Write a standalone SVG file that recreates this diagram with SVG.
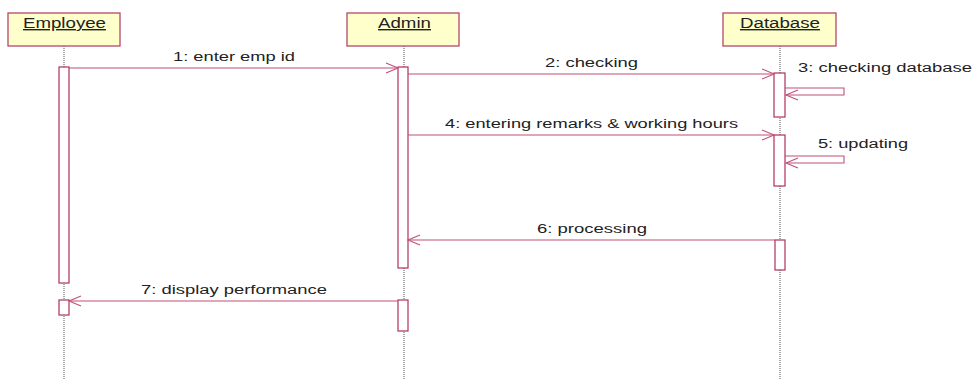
<svg xmlns="http://www.w3.org/2000/svg" width="980" height="380" viewBox="0 0 980 380">
<style>
.box{fill:#ffffcc;stroke:#b4476e;stroke-width:1.3}
.life{stroke:#555;stroke-width:1;stroke-dasharray:1 1}
.act{fill:#fff;stroke:#b0305e;stroke-width:1.2}
.msg{fill:none;stroke:#c0507a;stroke-width:1.1}
.head{fill:none;stroke:#c0507a;stroke-width:1.1}
.name{font-family:"Liberation Sans",Arial,sans-serif;font-size:14px;fill:#222;text-decoration:underline}
.lbl{font-family:"Liberation Sans",Arial,sans-serif;font-size:12px;fill:#222}
</style>
<rect width="980" height="380" fill="#fff"/>
<g id="employee">
<line class="life" x1="64" y1="46" x2="64" y2="380"/>
<rect class="box" x="8" y="13" width="112" height="33"/>
<text class="name" x="23" y="28" textLength="83" lengthAdjust="spacingAndGlyphs">Employee</text>
<rect class="act" x="59" y="67" width="10" height="216"/>
<rect class="act" x="59" y="300" width="10" height="15"/>
</g>
<g id="admin">
<line class="life" x1="404" y1="46" x2="404" y2="380"/>
<rect class="box" x="347" y="13" width="112" height="33"/>
<text class="name" x="378" y="28" textLength="53" lengthAdjust="spacingAndGlyphs">Admin</text>
<rect class="act" x="398" y="67" width="10" height="201"/>
<rect class="act" x="398" y="300" width="10" height="31"/>
</g>
<g id="database">
<line class="life" x1="780" y1="46" x2="780" y2="380"/>
<rect class="box" x="723" y="13" width="113" height="33"/>
<text class="name" x="740" y="28" textLength="80" lengthAdjust="spacingAndGlyphs">Database</text>
<rect class="act" x="774" y="73" width="11" height="44"/>
<rect class="act" x="774" y="135" width="11" height="51"/>
<rect class="act" x="775" y="240" width="10" height="30"/>
</g>
<g id="connectors">
<line class="msg" x1="69" y1="68" x2="398" y2="68"/>
<polyline class="head" points="386,63 398,68 386,73"/>
<text class="lbl" x="173" y="61" textLength="122" lengthAdjust="spacingAndGlyphs">1: enter emp id</text>

<line class="msg" x1="408" y1="74" x2="774" y2="74"/>
<polyline class="head" points="762,69 774,74 762,79"/>
<text class="lbl" x="545" y="67" textLength="93" lengthAdjust="spacingAndGlyphs">2: checking</text>

<polyline class="msg" points="785,88 844,88 844,95 786,95"/>
<polyline class="head" points="798,90 786,95 798,100"/>
<text class="lbl" x="798" y="72" textLength="174" lengthAdjust="spacingAndGlyphs">3: checking database</text>

<line class="msg" x1="408" y1="135" x2="774" y2="135"/>
<polyline class="head" points="762,130 774,135 762,140"/>
<text class="lbl" x="445" y="128" textLength="293" lengthAdjust="spacingAndGlyphs">4: entering remarks &amp; working hours</text>

<polyline class="msg" points="785,156 844,156 844,163 786,163"/>
<polyline class="head" points="798,158 786,163 798,168"/>
<text class="lbl" x="818" y="148" textLength="90" lengthAdjust="spacingAndGlyphs">5: updating</text>

<line class="msg" x1="775" y1="240" x2="408" y2="240"/>
<polyline class="head" points="420,235 408,240 420,245"/>
<text class="lbl" x="537" y="233" textLength="110" lengthAdjust="spacingAndGlyphs">6: processing</text>

<line class="msg" x1="398" y1="301" x2="69" y2="301"/>
<polyline class="head" points="81,296 69,301 81,306"/>
<text class="lbl" x="141" y="294" textLength="186" lengthAdjust="spacingAndGlyphs">7: display performance</text>
</g>
</svg>
